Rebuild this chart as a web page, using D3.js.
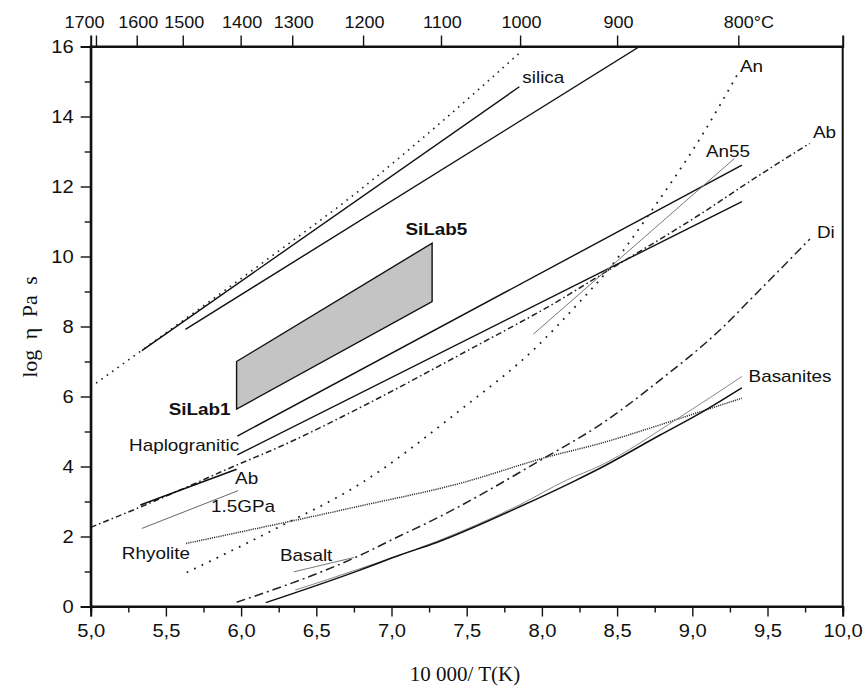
<!DOCTYPE html>
<html><head><meta charset="utf-8">
<script src="https://cdn.jsdelivr.net/npm/d3@7"></script>
<style>body{margin:0;background:#fff}svg{display:block}</style>
</head><body>
<svg id="c" width="866" height="696"></svg>
<script>
// ---------- data ----------
const xTickValues = [5.0,5.5,6.0,6.5,7.0,7.5,8.0,8.5,9.0,9.5,10.0];
const yTickValues = [0,2,4,6,8,10,12,14,16];
// top temperature ticks, positions read on the 10 000/T scale
const topTickPos = [5.035,5.306,5.612,5.997,6.340,6.811,7.329,7.855,8.500,9.306];
const topLabels = ["1700","1600","1500","1400","1300","1200","1100","1000","900","800°C"];

const silicaDotted = [[5.0,6.27],[5.55,7.97],[6.2,10.0],[6.79,11.9],[7.32,13.8],[7.85,15.81]];
const silicaSolid = [[5.34,7.31],[7.85,14.85]];
const upperSolid = [[5.63,7.92],[8.65,16.0]];
const siLabArea = [[5.97,7.0],[7.27,10.38],[7.27,8.71],[5.97,5.64]];
const haploUpper = [[5.975,4.87],[9.33,12.61]];
const haploLower = [[5.975,4.33],[9.33,11.57]];
const abDashDot = [[5.0,2.26],[5.5,3.15],[5.97,4.04],[6.26,4.57],[6.79,5.68],[7.5,7.3],[8.12,8.76],[8.39,9.47],[9.05,11.2],[9.43,12.28],[9.78,13.23]];
const abSolid = [[5.33,2.9],[5.97,3.92]];
const ab15GPa = [[5.34,2.23],[5.98,3.31]];
const rhyolite = [[5.634,1.8],[6.79,2.87],[7.456,3.52],[8.043,4.28],[8.388,4.66],[8.786,5.19],[9.05,5.56],[9.329,5.95]];
const anDotted = [[5.638,0.97],[6.214,2.19],[6.79,3.5],[7.456,5.61],[7.965,7.42],[8.231,8.61],[8.453,9.68],[8.72,11.25],[9.07,13.5],[9.317,15.33]];
const an55 = [[7.943,7.78],[9.28,12.8]];
const diDashDot = [[5.97,0.12],[6.79,1.46],[7.057,2.02],[7.234,2.38],[8.031,4.28],[8.386,5.19],[8.786,6.47],[9.206,7.99],[9.384,8.76],[9.782,10.5]];
const basalt = [[6.35,0.99],[6.75,1.4]];
const basanites = [[6.164,0.11],[6.79,1.04],[7.057,1.47],[7.3,1.83],[7.852,2.85],[8.209,3.57],[8.386,3.95],[8.786,4.9],[9.05,5.52],[9.329,6.25]];
const basanitesGray = [[6.36,0.47],[6.79,1.08],[7.3,1.86],[7.85,2.9],[8.164,3.61],[8.386,4.02],[8.907,5.38],[9.329,6.57]];

const labels = [
  {t:"silica", x:7.87, y:14.96},
  {t:"SiLab5", x:7.093, y:10.61, bold:true},
  {t:"SiLab1", x:5.93, y:5.47, bold:true, end:true},
  {t:"Haplogranitic", x:5.255, y:4.44},
  {t:"Ab", x:5.96, y:3.5},
  {t:"1.5GPa", x:5.8, y:2.7},
  {t:"Rhyolite", x:5.207, y:1.36},
  {t:"Basalt", x:6.258, y:1.3},
  {t:"Basanites", x:9.374, y:6.41},
  {t:"Di", x:9.829, y:10.53},
  {t:"Ab", x:9.802, y:13.39},
  {t:"An55", x:9.091, y:12.84},
  {t:"An", x:9.317, y:15.27}
];

// ---------- chart ----------
const svg = d3.select("#c");
const L = 90.7, R = 842.7, T = 46.5, B = 606.5;
const x = d3.scaleLinear().domain([5,10]).range([L,R]);
const y = d3.scaleLinear().domain([0,16]).range([B,T]);
const sans = "'Liberation Sans', Arial, sans-serif";
const serif = "'Liberation Serif', 'Times New Roman', serif";

function stretch(sel, k){
  sel.each(function(){
    const w = this.getComputedTextLength();
    d3.select(this).attr("textLength", w*k).attr("lengthAdjust","spacingAndGlyphs");
  });
}

svg.append("defs").append("clipPath").attr("id","clip")
  .append("rect").attr("x",L).attr("y",T).attr("width",R-L).attr("height",B-T);
const g = svg.append("g").attr("clip-path","url(#clip)");

const straight = d3.line().x(d=>x(d[0])).y(d=>y(d[1]));
const curved = d3.line().x(d=>x(d[0])).y(d=>y(d[1])).curve(d3.curveMonotoneX);

// SiLab area
g.append("path").attr("d", straight(siLabArea)+"Z")
  .attr("fill","#c4c4c4").attr("stroke","#111").attr("stroke-width",1.4);

function draw(data, gen, stroke, width, dash){
  g.append("path").attr("d", gen(data)).attr("fill","none")
    .attr("stroke", stroke).attr("stroke-width", width)
    .attr("stroke-dasharray", dash || null).attr("stroke-linecap","butt");
}
draw(silicaDotted, curved, "#222", 1.6, "1.6,5");
draw(silicaSolid, straight, "#111", 1.4);
draw(upperSolid, straight, "#111", 1.4);
draw(haploUpper, straight, "#111", 1.4);
draw(haploLower, straight, "#111", 1.4);
draw(abDashDot, curved, "#222", 1.5, "6,3,1.6,3");
draw(abSolid, straight, "#111", 1.6);
draw(ab15GPa, straight, "#666", 1);
draw(rhyolite, curved, "#333", 1.5, "1.2,1");
draw(anDotted, curved, "#222", 1.8, "1.8,6.5");
draw(an55, straight, "#777", 1);
draw(diDashDot, curved, "#222", 1.5, "9,4,2,4");
draw(basalt, straight, "#777", 1);
draw(basanitesGray, curved, "#888", 1);
draw(basanites, curved, "#111", 1.5);

// labels
const lab = svg.selectAll("text.lab").data(labels).join("text").attr("class","lab")
  .attr("x", d=>x(d.x)).attr("y", d=>y(d.y))
  .attr("text-anchor", d=>d.end ? "end" : "start")
  .attr("font-family", sans).attr("font-size", 17)
  .attr("font-weight", d=>d.bold ? "bold" : "normal")
  .attr("fill","#111").text(d=>d.t);
stretch(lab, 1.11);

// frame
svg.append("rect").attr("x",L).attr("y",T).attr("width",R-L).attr("height",B-T)
  .attr("fill","none").attr("stroke","#111").attr("stroke-width",2);

// bottom axis
const xAxis = d3.axisBottom(x).tickValues(xTickValues).tickSize(10).tickPadding(8)
  .tickFormat(d=>d3.format(".1f")(d).replace(".",","));
const gx = svg.append("g").attr("transform",`translate(0,${B})`).call(xAxis);
const xMinor = d3.axisBottom(x).tickValues(d3.range(5.25,10,0.5)).tickSize(6).tickFormat("");
svg.append("g").attr("transform",`translate(0,${B})`).call(xMinor);

// left axis
const yAxis = d3.axisLeft(y).tickValues(yTickValues).tickSize(10).tickPadding(7);
const gy = svg.append("g").attr("transform",`translate(${L},0)`).call(yAxis);
const yMinor = d3.axisLeft(y).tickValues(d3.range(1,16,2)).tickSize(6).tickFormat("");
svg.append("g").attr("transform",`translate(${L},0)`).call(yMinor);

// top axis (temperature °C)
const xTop = d3.axisTop(x).tickValues(topTickPos)
  .tickSize(11).tickPadding(8).tickFormat((d,i)=>topLabels[i]);
const gt = svg.append("g").attr("transform",`translate(0,${T})`).call(xTop);
const topShift = {"1700":-12, "800°C":10};
gt.selectAll("text").attr("dx", function(){ return topShift[this.textContent] || 1; });

svg.selectAll(".domain").attr("stroke","#111").attr("stroke-width",2);
svg.selectAll(".tick line").attr("stroke","#111").attr("stroke-width",1.4);
const mainTickText = svg.selectAll(".tick text").attr("font-family",sans).attr("fill","#111");
gx.selectAll(".tick text").attr("font-size",18);
gy.selectAll(".tick text").attr("font-size",18);
gt.selectAll(".tick text").attr("font-size",17);
stretch(gx.selectAll(".tick text"), 1.12);
stretch(gy.selectAll(".tick text"), 1.12);
stretch(gt.selectAll(".tick text"), 1.06);

// axis titles
svg.append("text").attr("x", 465).attr("y", 681).attr("text-anchor","middle")
  .attr("font-family", serif).attr("font-size", 21).attr("fill","#111").text("10 000/ T(K)");
svg.append("text").attr("transform","translate(37,327) rotate(-90)").attr("text-anchor","middle")
  .attr("font-family", serif).attr("font-size", 22).attr("word-spacing", 5).attr("fill","#111")
  .text("log η Pa s");
</script>
</body></html>
